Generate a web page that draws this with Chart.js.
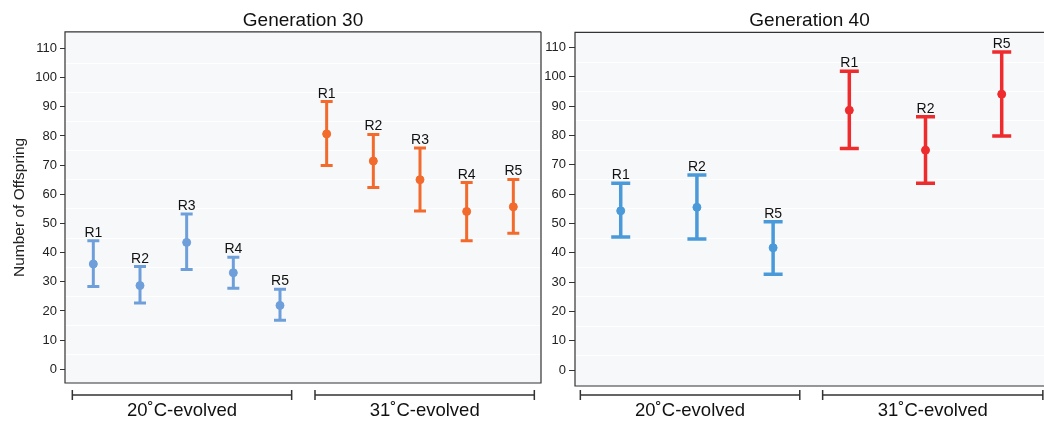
<!DOCTYPE html>
<html>
<head>
<meta charset="utf-8">
<script src="https://cdn.jsdelivr.net/npm/chart.js@4.4.1/dist/chart.umd.min.js"></script>
<style>
  html, body { margin: 0; padding: 0; background: #fff; }
  #contenedor { position: relative; width: 1044px; height: 423px; }
  canvas { position: absolute; top: 0; }
  #grafica30 { left: 0; }
  #grafica40 { left: 543px; }
</style>
</head>
<body>
<div id="contenedor">
  <canvas id="grafica30" width="543" height="423"></canvas>
  <canvas id="grafica40" width="501" height="423"></canvas>
</div>
<script>
// ════════════════════════════════════════
//  Datos
// ════════════════════════════════════════

// Generación 30
const replicas30 = ["R1", "R2", "R3", "R4", "R5"];
const media20C_g30 = [36.1, 28.7, 43.5, 33.1, 21.9];
const bajo20C_g30  = [28.4, 22.7, 34.2, 27.8, 16.8];
const alto20C_g30  = [44.1, 35.2, 53.2, 38.4, 27.4];
const media31C_g30 = [80.7, 71.4, 65.0, 54.1, 55.7];
const bajo31C_g30  = [69.9, 62.3, 54.3, 44.1, 46.6];
const alto31C_g30  = [91.8, 80.5, 75.9, 64.0, 65.1];

// Generación 40
const replicas40 = ["R1", "R2", "R5"];
const media20C_g40 = [54.3, 55.5, 41.7];
const bajo20C_g40  = [45.4, 44.7, 32.7];
const alto20C_g40  = [63.7, 66.5, 50.6];
const media31C_g40 = [88.6, 75.0, 94.1];
const bajo31C_g40  = [75.6, 63.7, 79.8];
const alto31C_g40  = [101.9, 86.4, 108.5];

const ticksY = [0, 10, 20, 30, 40, 50, 60, 70, 80, 90, 100, 110];
const lineasGuia = [5, 15, 25, 35, 45, 55, 65, 75, 85, 95, 105];
const grupos = ["20˚C-evolved", "31˚C-evolved"];

const fuente = "'Liberation Sans', Arial, Helvetica, sans-serif";


// ════════════════════════════════════════
//  Plugin: fondo, marco, barras de error,
//  etiquetas y corchetes de grupo
// ════════════════════════════════════════

const pluginPanel = {
  id: "panel",
  beforeDraw(chart, args, opts) {
    const { ctx, chartArea: a } = chart;
    ctx.save();
    ctx.fillStyle = "#f7f8fa";
    ctx.fillRect(a.left, a.top, a.right - a.left, a.bottom - a.top);
    ctx.restore();
  },
  beforeDatasetsDraw(chart, args, opts) {
    const { ctx, chartArea: a, scales } = chart;
    ctx.save();
    // marco del panel
    ctx.strokeStyle = "#333";
    ctx.lineWidth = 1.2;
    ctx.beginPath();
    ctx.moveTo(a.right, a.top);
    ctx.lineTo(a.left, a.top);
    ctx.lineTo(a.left, a.bottom);
    ctx.lineTo(a.right, a.bottom);
    if (opts.bordeDerecho) ctx.lineTo(a.right, a.top);
    ctx.stroke();

    // barras de error
    chart.data.datasets.forEach(ds => {
      ctx.strokeStyle = ds.borderColor;
      ctx.lineWidth = opts.grosor;
      ds.data.forEach((p, j) => {
        const x = scales.x.getPixelForValue(p.x);
        const yb = scales.y.getPixelForValue(ds.bajo[j]);
        const ya = scales.y.getPixelForValue(ds.alto[j]);
        ctx.beginPath();
        ctx.moveTo(x, yb);
        ctx.lineTo(x, ya);
        ctx.moveTo(x - opts.tapa, ya);
        ctx.lineTo(x + opts.tapa, ya);
        ctx.moveTo(x - opts.tapa, yb);
        ctx.lineTo(x + opts.tapa, yb);
        ctx.stroke();
      });
    });
    ctx.restore();
  },
  afterDatasetsDraw(chart, args, opts) {
    const { ctx, scales } = chart;
    ctx.save();
    ctx.fillStyle = "#111";
    ctx.font = "14px " + fuente;
    ctx.textAlign = "center";
    ctx.textBaseline = "alphabetic";
    chart.data.datasets.forEach(ds => {
      ds.data.forEach((p, j) => {
        const x = scales.x.getPixelForValue(p.x);
        const ya = scales.y.getPixelForValue(ds.alto[j]);
        ctx.fillText(ds.etiquetas[j], x, ya - 4);
      });
    });
    ctx.restore();
  },
  afterDraw(chart, args, opts) {
    const { ctx, scales } = chart;
    ctx.save();
    ctx.strokeStyle = "#333";
    ctx.lineWidth = 1.5;
    ctx.fillStyle = "#111";
    ctx.font = "18.5px " + fuente;
    ctx.textAlign = "center";
    ctx.textBaseline = "middle";
    opts.corchetes.forEach((c, i) => {
      const x1 = scales.x.getPixelForValue(c[0]);
      const x2 = scales.x.getPixelForValue(c[1]);
      const y = 395;
      ctx.beginPath();
      ctx.moveTo(x1, y); ctx.lineTo(x2, y);
      ctx.moveTo(x1, y - 5); ctx.lineTo(x1, y + 5);
      ctx.moveTo(x2, y - 5); ctx.lineTo(x2, y + 5);
      ctx.stroke();
      ctx.fillText(grupos[i], (x1 + x2) / 2, 411);
    });
    ctx.restore();
  }
};


// ════════════════════════════════════════
//  Construcción de cada panel
// ════════════════════════════════════════

function serie(etiquetas, media, bajo, alto, inicio, color, radio) {
  return {
    data: etiquetas.map((_, i) => ({ x: inicio + i, y: media[i] })),
    etiquetas: etiquetas,
    bajo: bajo,
    alto: alto,
    backgroundColor: color,
    borderColor: color,
    pointRadius: radio,
    pointBorderWidth: 1,
    showLine: false
  };
}

function crearPanel(id, cfg) {
  new Chart(document.getElementById(id), {
    type: "scatter",
    data: { datasets: cfg.series },
    options: {
      responsive: false,
      animation: false,
      events: [],
      layout: { padding: cfg.relleno, autoPadding: false },
      plugins: {
        legend: { display: false },
        tooltip: { enabled: false },
        title: {
          display: true,
          text: cfg.titulo,
          fullSize: false,
          color: "#111",
          font: { size: 19, weight: "normal", family: fuente, lineHeight: 1.2 },
          padding: cfg.rellenoTitulo
        },
        panel: {
          grosor: cfg.grosor,
          tapa: cfg.tapa,
          bordeDerecho: cfg.bordeDerecho,
          corchetes: cfg.corchetes
        }
      },
      scales: {
        x: {
          type: "linear",
          display: false,
          min: cfg.xMin,
          max: cfg.xMax
        },
        y: {
          position: "left",
          min: cfg.yMin,
          max: cfg.yMax,
          afterBuildTicks: s => { s.ticks = ticksY.map(v => ({ value: v })); },
          afterFit: s => { s.width = cfg.anchoEje; },
          border: { display: false },
          grid: { drawOnChartArea: false, drawTicks: true, tickLength: cfg.largoTick, color: "#333", lineWidth: 1 },
          ticks: { color: "#222", padding: 3, font: { size: 13, family: fuente } },
          title: {
            display: !!cfg.tituloY,
            text: cfg.tituloY || "",
            color: "#222",
            font: { size: 15.5, family: fuente, lineHeight: 1.2 },
            padding: { top: 10, bottom: 0 }
          }
        },
        guia: {
          position: "left",
          min: cfg.yMin,
          max: cfg.yMax,
          afterBuildTicks: s => { s.ticks = lineasGuia.map(v => ({ value: v })); },
          afterFit: s => { s.width = 0; },
          border: { display: false },
          grid: { drawTicks: false, color: "#ffffff", lineWidth: 1 },
          ticks: { display: false }
        }
      }
    },
    plugins: [pluginPanel]
  });
}

// Generación 30
crearPanel("grafica30", {
  titulo: "Generation 30",
  tituloY: "Number of Offspring",
  series: [
    serie(replicas30, media20C_g30, bajo20C_g30, alto20C_g30, 0, "#6e9fda", 4),
    serie(replicas30, media31C_g30, bajo31C_g30, alto31C_g30, 5, "#f26a2c", 4)
  ],
  relleno: { left: 0, right: 2, top: 0, bottom: 40 },
  rellenoTitulo: { top: 9, bottom: 0 },
  anchoEje: 65,
  largoTick: 5,
  xMin: -0.607, xMax: 9.593,
  yMin: -4.7, yMax: 115.7,
  grosor: 3, tapa: 6,
  bordeDerecho: true,
  corchetes: [[-0.45, 4.25], [4.75, 9.45]]
});

// Generación 40
crearPanel("grafica40", {
  titulo: "Generation 40",
  tituloY: null,
  series: [
    serie(replicas40, media20C_g40, bajo20C_g40, alto20C_g40, 0, "#4a9ad9", 4),
    serie(replicas40, media31C_g40, bajo31C_g40, alto31C_g40, 3, "#ee2c2e", 4)
  ],
  relleno: { left: 0, right: 0, top: 0, bottom: 37 },
  rellenoTitulo: { top: 9, bottom: 0.5 },
  anchoEje: 32,
  largoTick: 6,
  xMin: -0.6, xMax: 5.555,
  yMin: -5.45, yMax: 115.2,
  grosor: 3.5, tapa: 9.5,
  bordeDerecho: false,
  corchetes: [[-0.53, 2.35], [2.65, 5.54]]
});
</script>
</body>
</html>
